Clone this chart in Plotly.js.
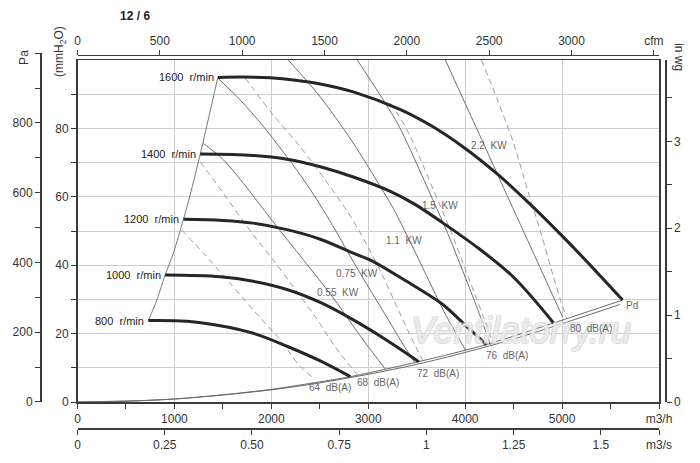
<!DOCTYPE html>
<html><head><meta charset="utf-8">
<script src="https://cdn.plot.ly/plotly-3.0.1.min.js"></script>
<style>html,body{margin:0;padding:0;background:#fff}#chart{width:700px;height:463px}</style>
</head><body><div id="chart"></div>
<script>
// ---- fan curves: flow (m3/h) vs static pressure (mmH2O)
const q1600 = [1448, 1700, 1989, 2250, 2505, 2846, 3332, 3642, 3983, 4334, 4675, 4985, 5191, 5625];
const h1600 = [94.9, 95.0, 94.8, 94.1, 93.0, 90.7, 85.5, 80.9, 74.5, 66.6, 57.7, 49.0, 43.0, 29.8];
const q1400 = [1266, 1813, 2161, 2505, 2846, 3228, 3469, 3814, 4158, 4502, 4912];
const h1400 = [72.5, 72.1, 71.0, 68.8, 65.8, 61.6, 58.0, 51.5, 44.5, 36.4, 23.1];
const q1200 = [1093, 1500, 1813, 2161, 2505, 2846, 3022, 3366, 3765, 4000, 4220];
const h1200 = [53.4, 53.1, 52.3, 50.4, 47.6, 43.5, 41.5, 35.8, 28.6, 22.5, 16.8];
const q1000 = [904, 1472, 1813, 2161, 2505, 2846, 3194, 3521];
const h1000 = [37.1, 36.6, 35.3, 32.9, 29.1, 24.0, 18.0, 11.8];
const q800 = [731, 1128, 1472, 1813, 2161, 2505, 2815];
const h800 = [23.8, 23.6, 22.3, 20.1, 16.3, 12.0, 7.4];
const speedLabels = ['800  r/min', '1000  r/min', '1200  r/min', '1400  r/min', '1600  r/min'];

// ---- surge boundary
const qLimit = [731, 818, 904, 990, 1093, 1162, 1266, 1448];
const hLimit = [23.8, 29.8, 37.1, 43.6, 53.4, 60.5, 72.4, 94.9];

// ---- power lines (kW)
const qKw055 = [1300, 1506, 1713, 1955, 2195, 2333, 2640, 2815, 2970, 3177];
const hKw055 = [75.6, 70.8, 63.9, 55.0, 46.4, 41.5, 30.4, 23.4, 17.3, 9.6];
const qKw075 = [1448, 1679, 1906, 2123, 2299, 2485, 2660, 2836, 3022, 3208, 3363, 3476];
const hKw075 = [94.7, 88.3, 81.0, 73.1, 66.4, 58.5, 50.3, 41.5, 32.7, 24.0, 16.7, 11.7];
const qKw11 = [2175, 2505, 2815, 3060, 3260, 3430, 3600, 3790, 4003];
const hKw11 = [100, 89.2, 77.0, 66.0, 56.5, 47.0, 37.0, 26.0, 15.2];
const qKw15 = [2887, 3156, 3311, 3435, 3621, 3817, 4024, 4158, 4261];
const hKw15 = [100, 88.3, 81.0, 73.7, 62.0, 49.5, 34.8, 24.9, 16.7];
const qKw22 = [3796, 4008, 4220, 4416, 4620, 4808, 4926, 5005];
const hKw22 = [100, 86.8, 73.7, 61.4, 48.8, 37.1, 29.8, 24.9];
const kwLabels = ['0.55  KW', '0.75  KW', '1.1  KW', '1.5  KW', '2.2  KW'];
const kwLabelQ = [2686, 2887, 3368, 3740, 4251];
const kwLabelH = [31.9, 37.7, 47.1, 57.4, 75.1];

// ---- noise lines dB(A)
const qDb64 = [1076, 1300, 1575, 1813, 2092, 2299, 2419];
const hDb64 = [50.3, 43.5, 34.7, 26.9, 18.1, 10.3, 7.4];
const qDb68 = [1266, 1503, 1679, 1854, 2020, 2237, 2454, 2660, 2887];
const hDb68 = [70.2, 61.1, 54.1, 47.4, 41.5, 33.3, 24.9, 16.1, 7.9];
const qDb72 = [1730, 2020, 2299, 2557, 2794, 2970, 3146, 3311, 3456, 3559];
const hDb72 = [94.7, 83.9, 74.6, 64.9, 55.3, 46.8, 37.1, 26.9, 18.1, 12.3];
const qDb76 = [3228, 3373, 3497, 3673, 3858, 4055, 4189, 4292];
const hDb76 = [87.4, 81.0, 73.7, 62.0, 49.5, 34.8, 24.9, 17.0];
const qDb80 = [4168, 4334, 4499, 4644, 4788, 4912, 4984, 5046];
const hDb80 = [100, 88.3, 75.7, 62.0, 48.8, 36.5, 29.8, 24.6];
const dbLabels = ['64  dB(A)', '68  dB(A)', '72  dB(A)', '76  dB(A)', '80  dB(A)'];
const dbLabelQ = [2608, 3099, 3719, 4427, 5294];
const dbLabelH = [4.1, 5.6, 8.2, 13.7, 21.6];

// ---- dynamic pressure Pd (double line)
const qPd = [0, 500, 1000, 1500, 2000, 2500, 2815, 3521, 4220, 4912, 5625];
const hPd = [0, 0.2, 0.9, 2.1, 3.7, 5.9, 7.4, 11.8, 16.8, 23.1, 29.8];
const qPd2 = [0, 1000, 2000, 2500, 3000, 3500, 4000, 4500, 5000, 5595];
const hPd2 = [0, 0.85, 3.55, 5.6, 8.1, 11.0, 14.5, 18.4, 22.9, 28.5];

// ---- axis ticks
const m3hTickVals = [0, 1000, 2000, 3000, 4000, 5000, 6000];
const m3hTickText = ['0', '1000', '2000', '3000', '4000', '5000', 'm3/h'];
const m3hMinorVals = [500, 1500, 2500, 3500, 4500, 5500];
const cfmTickVals = [0, 500, 1000, 1500, 2000, 2500, 3000, 3500];
const cfmTickText = ['0', '500', '1000', '1500', '2000', '2500', '3000', 'cfm'];
const m3sTickVals = [0, 0.25, 0.5, 0.75, 1, 1.25, 1.5, 1.6667];
const m3sTickText = ['0', '0.25', '0.50', '0.75', '1', '1.25', '1.5', 'm3/s'];
const mmTickVals = [0, 10, 20, 30, 40, 50, 60, 70, 80, 90];
const mmTickText = ['0', ' ', '20', ' ', '40', ' ', '60', ' ', '80', ' '];
const paTickVals = [0, 100, 200, 300, 400, 500, 600, 700, 800, 900, 1000];
const paTickText = ['0', ' ', '200', ' ', '400', ' ', '600', ' ', '800', ' ', ' '];
const inwgTickVals = [0, 0.5, 1, 1.5, 2, 2.5, 3, 3.5];
const inwgTickText = ['0', ' ', '1', ' ', '2', ' ', '3', ' '];

const FONT = 'Liberation Sans, Arial, sans-serif';
const AX = '#3a3a3a';
const GRID = '#cdcdcd';

const traces = [];
function line(q, h, color, width, dash, smooth) {
  traces.push({x: q, y: h, type: 'scatter', mode: 'lines', hoverinfo: 'skip',
    line: {color: color, width: width, dash: dash || 'solid', shape: 'spline', smoothing: smooth || 0.8}});
}
line(qPd, hPd, '#6a6a6a', 1);
line(qPd2, hPd2, '#6a6a6a', 1);
line(qLimit, hLimit, '#777', 1);
[[qKw055, hKw055], [qKw075, hKw075], [qKw11, hKw11], [qKw15, hKw15], [qKw22, hKw22]]
  .forEach(p => line(p[0], p[1], '#6e6e6e', 1));
[[qDb64, hDb64], [qDb68, hDb68], [qDb72, hDb72], [qDb76, hDb76], [qDb80, hDb80]]
  .forEach(p => line(p[0], p[1], '#9a9a9a', 1, '6px,4px'));
const fans = [[q800, h800], [q1000, h1000], [q1200, h1200], [q1400, h1400], [q1600, h1600]];
fans.forEach(p => line(p[0], p[1], '#262626', 3, 'solid', 1.0));

// empty traces to activate secondary axes
traces.push({x: [null], y: [null], xaxis: 'x2', yaxis: 'y', type: 'scatter', mode: 'lines', hoverinfo: 'skip'});
traces.push({x: [null], y: [null], xaxis: 'x3', yaxis: 'y', type: 'scatter', mode: 'lines', hoverinfo: 'skip'});
traces.push({x: [null], y: [null], xaxis: 'x', yaxis: 'y3', type: 'scatter', mode: 'lines', hoverinfo: 'skip'});
traces.push({x: [null], y: [null], xaxis: 'x4', yaxis: 'y2', type: 'scatter', mode: 'lines', hoverinfo: 'skip'});

const annotations = [];
annotations.push({x: 4571, y: 21, xref: 'x', yref: 'y', text: '<i>Ventilatorry.ru</i>', showarrow: false,
  font: {family: FONT, size: 36, color: 'rgba(255,255,255,0.55)',
    shadow: '1px 1px 0 #d0d0d0, -1px -1px 0 #d0d0d0, 1px -1px 0 #d0d0d0, -1px 1px 0 #d0d0d0'}});
fans.forEach((p, i) => annotations.push({x: p[0][0], y: p[1][0], xref: 'x', yref: 'y',
  text: speedLabels[i], showarrow: false, xanchor: 'right', yanchor: 'middle', xshift: -2,
  font: {family: FONT, size: 11, color: '#222'}}));
kwLabels.forEach((t, i) => annotations.push({x: kwLabelQ[i], y: kwLabelH[i], xref: 'x', yref: 'y',
  text: t, showarrow: false, xanchor: 'center', yanchor: 'middle', font: {family: FONT, size: 10, color: '#666'}}));
dbLabels.forEach((t, i) => annotations.push({x: dbLabelQ[i], y: dbLabelH[i], xref: 'x', yref: 'y',
  text: t, showarrow: false, xanchor: 'center', yanchor: 'middle', font: {family: FONT, size: 10, color: '#666'}}));
annotations.push({x: 5718, y: 28.1, xref: 'x', yref: 'y', text: 'Pd', showarrow: false,
  xanchor: 'center', yanchor: 'middle', font: {family: FONT, size: 10, color: '#666'}});
annotations.push({x: -0.0256, y: 0.987, xref: 'paper', yref: 'paper', text: 'Pa', textangle: -90,
  xanchor: 'center', yanchor: 'middle', showarrow: false, font: {family: FONT, size: 12, color: '#333'}});
annotations.push({x: 0.032, y: 1.003, xref: 'paper', yref: 'paper', text: '(mmH<sub>2</sub>O)', textangle: -90,
  xanchor: 'center', yanchor: 'middle', showarrow: false, font: {family: FONT, size: 12, color: '#333'}});
annotations.push({x: 1.0224, y: 0.989, xref: 'paper', yref: 'paper', text: 'in wg', textangle: 90,
  xanchor: 'center', yanchor: 'middle', showarrow: false, font: {family: FONT, size: 12, color: '#333'}});

const tickFont = {family: FONT, size: 12, color: '#333'};
const baseAxis = {showline: true, linecolor: AX, linewidth: 1.5, ticks: 'outside', ticklen: 5,
  tickcolor: AX, tickwidth: 1, tickfont: tickFont, zeroline: false, fixedrange: true};

const layout = {
  width: 700, height: 463,
  margin: {l: 40, r: 35, t: 53, b: 35},
  paper_bgcolor: '#fff', plot_bgcolor: 'rgba(0,0,0,0)',
  showlegend: false, hovermode: false,
  title: {text: '<b>12 / 6</b>', xref: 'container', yref: 'container', x: 0.193, y: 0.965,
    xanchor: 'center', yanchor: 'middle', font: {family: FONT, size: 12, color: '#222'}},
  xaxis: Object.assign({}, baseAxis, {domain: [0.06, 0.9904], range: [0, 6000], anchor: 'y',
    mirror: true, tickmode: 'array', tickvals: m3hTickVals, ticktext: m3hTickText,
    showgrid: true, gridcolor: GRID, gridwidth: 1,
    minor: {tickmode: 'array', tickvals: m3hMinorVals, ticks: 'outside', ticklen: 5, tickcolor: AX, showgrid: false}}),
  xaxis2: Object.assign({}, baseAxis, {overlaying: 'x', side: 'top', anchor: 'free', position: 0.9947,
    range: [0, 3531.5], tickmode: 'array', tickvals: cfmTickVals, ticktext: cfmTickText, showgrid: false}),
  xaxis3: Object.assign({}, baseAxis, {overlaying: 'x', side: 'bottom', anchor: 'free', position: 0,
    range: [0, 1.6667], tickmode: 'array', tickvals: m3sTickVals, ticktext: m3sTickText, showgrid: false}),
  xaxis4: {domain: [0.06, 0.9904], anchor: 'y2', range: [0, 1], visible: false, fixedrange: true},
  yaxis: Object.assign({}, baseAxis, {domain: [0.06933, 0.98133], range: [0, 100], anchor: 'x',
    mirror: true, tickmode: 'array', tickvals: mmTickVals, ticktext: mmTickText,
    showgrid: true, gridcolor: GRID, gridwidth: 1}),
  yaxis2: Object.assign({}, baseAxis, {domain: [0.06933, 0.9995], range: [0, 1000], anchor: 'free', position: 0,
    side: 'left', tickmode: 'array', tickvals: paTickVals, ticktext: paTickText, showgrid: false}),
  yaxis3: Object.assign({}, baseAxis, {overlaying: 'y', side: 'right', anchor: 'free', position: 1,
    range: [0, 3.937], tickmode: 'array', tickvals: inwgTickVals, ticktext: inwgTickText, showgrid: false}),
  annotations: annotations
};

Plotly.newPlot('chart', traces, layout, {displayModeBar: false, staticPlot: true});
</script>
</body></html>
